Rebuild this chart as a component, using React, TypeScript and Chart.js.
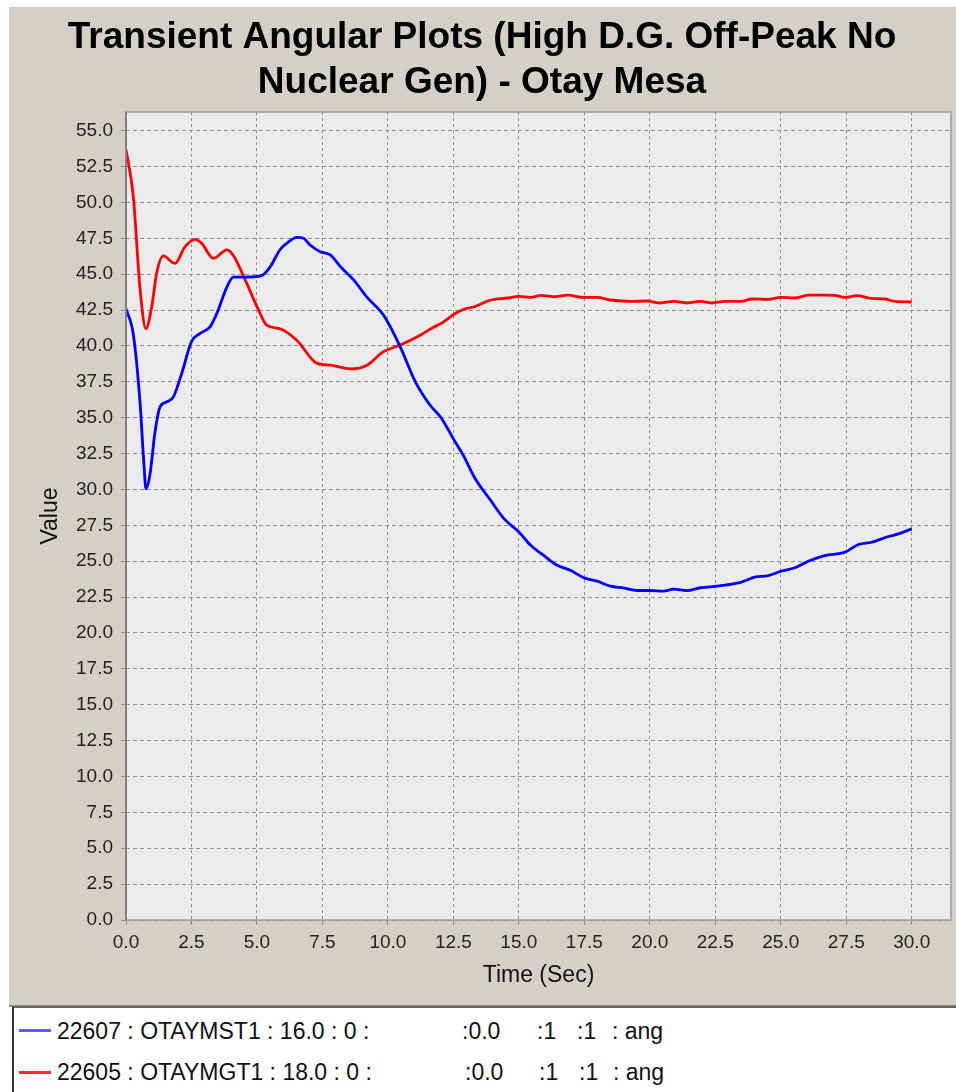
import React, { useEffect, useRef } from "react";
import { Chart, registerables } from "chart.js";

Chart.register(...registerables);

const chartTitle = ["Transient Angular Plots (High D.G. Off-Peak No", "Nuclear Gen) - Otay Mesa"];
const xAxisTitle = "Time (Sec)";
const yAxisTitle = "Value";

const blueTime = [
  0, 0.28, 0.53, 0.69, 0.76, 0.92, 1.1, 1.3, 1.55, 1.81,
  2.13, 2.5, 2.83, 3.21, 3.47, 3.85, 4.1, 4.6, 5.18, 5.5,
  5.88, 6.14, 6.52, 6.78, 7.03, 7.41, 7.8, 8.2, 8.69, 9.2,
  9.83, 10.47, 11.05, 11.6, 12.03, 12.54, 12.92, 13.3, 13.93, 14.44,
  15.01, 15.46, 15.96, 16.41, 16.98, 17.49, 17.99, 18.5, 19.0, 19.52,
  20.02, 20.53, 20.91, 21.42, 21.93, 22.22, 22.86, 23.49, 24.0, 24.52,
  25.0, 25.54, 26.05, 26.68, 27.45, 27.96, 28.47, 29.11, 29.49, 30.0,
];
const blueValues = [
  42.6, 40.8, 36.2, 31.6, 30.05, 31.1, 33.9, 35.75, 36.1, 36.45,
  38.1, 40.3, 40.87, 41.33, 42.27, 44.1, 44.8, 44.8, 44.9, 45.5,
  46.7, 47.15, 47.57, 47.5, 47.03, 46.57, 46.34, 45.5, 44.6, 43.4,
  42.15, 39.94, 37.5, 35.9, 35.0, 33.4, 32.24, 30.85, 29.22, 27.95,
  27.02, 26.09, 25.39, 24.77, 24.35, 23.84, 23.61, 23.26, 23.14, 22.96,
  22.96, 22.91, 23.05, 22.95, 23.15, 23.19, 23.33, 23.54, 23.89, 24.0,
  24.3, 24.54, 25.0, 25.39, 25.63, 26.16, 26.32, 26.72, 26.9, 27.25,
];

const redTime = [
  0, 0.28, 0.53, 0.76, 0.98, 1.17, 1.42, 1.87, 2.25, 2.64,
  2.89, 3.34, 3.85, 4.1, 4.61, 5.06, 5.37, 5.88, 6.52, 7.28,
  7.8, 8.56, 9.2, 9.83, 10.47, 11.23, 11.74, 12.03, 12.54, 12.92,
  13.3, 13.93, 14.57, 15.01, 15.46, 15.84, 16.41, 16.85, 17.49, 17.99,
  18.5, 19.26, 19.9, 20.4, 20.91, 21.42, 21.93, 22.35, 22.86, 23.49,
  23.88, 24.52, 25.0, 25.54, 26.05, 26.68, 27.07, 27.45, 27.9, 28.47,
  28.98, 29.36, 30.0,
];
const redValues = [
  53.7, 50.4, 44.1, 41.2, 42.7, 45.06, 46.27, 45.75, 46.9, 47.43,
  47.15, 46.1, 46.7, 46.3, 44.36, 42.5, 41.45, 41.2, 40.4, 38.8,
  38.66, 38.4, 38.66, 39.6, 40.06, 40.75, 41.3, 41.57, 42.22, 42.57,
  42.73, 43.2, 43.34, 43.45, 43.38, 43.52, 43.43, 43.54, 43.38, 43.38,
  43.2, 43.1, 43.13, 42.99, 43.1, 42.99, 43.1, 42.99, 43.1, 43.1,
  43.27, 43.24, 43.38, 43.34, 43.54, 43.54, 43.52, 43.38, 43.5, 43.31,
  43.27, 43.1, 43.06,
];

const seriesNames = ["22607 : OTAYMST1 : 16.0 : 0 :", "22605 : OTAYMGT1 : 18.0 : 0 :"];
const legendRest = [
  [":0.0", ":1", ":1", ": ang"],
  [":0.0", ":1", ":1", ": ang"],
];
const seriesColors = ["#0000ff", "#ff0000"];
const legendSwatchColors = ["#5a5aff", "#ff2a2a"];

const xMin = 0;
const xMax = 31.5;
const yMin = 0;
const yMax = 56.3;
const tickStep = 2.5;

const FONT = "'Liberation Sans', Arial, Helvetica, sans-serif";

export default function App() {
  const canvasRef = useRef<HTMLCanvasElement | null>(null);

  useEffect(() => {
    document.body.style.margin = "0";
    const canvas = canvasRef.current;
    if (!canvas) return;

    const panelPlugin = {
      id: "panelBg",
      beforeDraw(chart: any) {
        const { ctx, chartArea } = chart;
        ctx.save();
        ctx.fillStyle = "#ffffff";
        ctx.fillRect(0, 0, chart.width, chart.height);
        ctx.fillStyle = "#d4d0c8";
        ctx.fillRect(9, 7, chart.width - 9, chart.height - 8);
        ctx.fillStyle = "#8c8a86";
        ctx.fillRect(9, chart.height - 2, chart.width - 9, 2);
        ctx.fillStyle = "#ebebeb";
        ctx.fillRect(chartArea.left, chartArea.top, chartArea.right - chartArea.left, chartArea.bottom - chartArea.top);
        ctx.restore();
      },
      afterDraw(chart: any) {
        const { ctx, chartArea } = chart;
        ctx.save();
        ctx.strokeStyle = "#9a9a9a";
        ctx.lineWidth = 1.5;
        ctx.strokeRect(chartArea.left, chartArea.top, chartArea.right - chartArea.left, chartArea.bottom - chartArea.top);
        ctx.strokeStyle = "#808080";
        ctx.lineWidth = 2;
        ctx.beginPath();
        ctx.moveTo(chartArea.left, chartArea.top);
        ctx.lineTo(chartArea.left, chartArea.bottom);
        ctx.stroke();
        ctx.restore();
      },
    };

    const toPoints = (xs: number[], ys: number[]) => xs.map((x, i) => ({ x, y: ys[i] }));
    const filterTicks = (scale: any) => {
      scale.ticks = scale.ticks.filter((t: any) => Math.abs(t.value / tickStep - Math.round(t.value / tickStep)) < 1e-6);
    };

    const chart = new Chart(canvas, {
      type: "line",
      data: {
        datasets: [
          {
            label: seriesNames[0],
            data: toPoints(blueTime, blueValues),
            borderColor: seriesColors[0],
            backgroundColor: seriesColors[0],
            borderWidth: 2.8,
            pointRadius: 0,
            cubicInterpolationMode: "monotone",
            fill: false,
          },
          {
            label: seriesNames[1],
            data: toPoints(redTime, redValues),
            borderColor: seriesColors[1],
            backgroundColor: seriesColors[1],
            borderWidth: 2.8,
            pointRadius: 0,
            cubicInterpolationMode: "monotone",
            fill: false,
          },
        ],
      },
      options: {
        responsive: false,
        animation: false,
        devicePixelRatio: 1,
        layout: { padding: { left: 13, right: 5, top: 0, bottom: 0 } },
        plugins: {
          legend: { display: false },
          tooltip: { enabled: false },
          title: {
            display: true,
            text: chartTitle,
            color: "#000000",
            font: { family: FONT, size: 37, weight: "bold", lineHeight: "45px" },
            padding: { top: 15, bottom: 7 },
          },
        },
        scales: {
          x: {
            type: "linear",
            min: xMin,
            max: xMax,
            afterFit(scale: any) {
              scale.height = 87;
            },
            afterBuildTicks: filterTicks,
            ticks: {
              stepSize: tickStep,
              includeBounds: false,
              autoSkip: false,
              maxRotation: 0,
              padding: 6,
              color: "#222222",
              font: { family: FONT, size: 19 },
              callback: (v: any) => Number(v).toFixed(1),
            },
            grid: {
              color: "#8f8f8f",
              lineWidth: 1,
              tickLength: 5,
              tickColor: "#8a8a8a",
              tickBorderDash: [],
            },
            border: { display: false, dash: [3, 3] },
            title: {
              display: true,
              text: xAxisTitle,
              color: "#111111",
              font: { family: FONT, size: 23 },
              padding: { top: 0, bottom: 18 },
            },
          },
          y: {
            type: "linear",
            min: yMin,
            max: yMax,
            afterFit(scale: any) {
              scale.width = 113;
            },
            afterBuildTicks: filterTicks,
            ticks: {
              stepSize: tickStep,
              includeBounds: false,
              autoSkip: false,
              padding: 8,
              color: "#222222",
              font: { family: FONT, size: 19 },
              callback: (v: any) => Number(v).toFixed(1),
            },
            grid: {
              color: "#8f8f8f",
              lineWidth: 1,
              tickLength: 5,
              tickColor: "#8a8a8a",
              tickBorderDash: [],
            },
            border: { display: false, dash: [4, 3] },
            title: {
              display: true,
              text: yAxisTitle,
              color: "#111111",
              font: { family: FONT, size: 23 },
              padding: { top: 24, bottom: 0 },
            },
          },
        },
      },
      plugins: [panelPlugin],
    } as any);

    return () => chart.destroy();
  }, []);

  const legendXs = [
    [462, 537, 577, 612],
    [465, 539, 579, 613],
  ];
  const rowTops = [1020, 1061];
  const swatchYs = [1029, 1071];

  return (
    <div style={{ position: "absolute", left: 0, top: 0, width: 956, height: 1092, background: "#ffffff", overflow: "hidden" }}>
      <canvas ref={canvasRef} width={956} height={1007} style={{ position: "absolute", left: 0, top: 0, width: 956, height: 1007 }} />
      <div
        style={{
          position: "absolute",
          left: 12,
          top: 1006,
          width: 960,
          height: 100,
          background: "#ffffff",
          borderLeft: "2px solid #333333",
          borderTop: "2px solid #666666",
        }}
      />
      {seriesNames.map((name, i) => (
        <React.Fragment key={name}>
          <div style={{ position: "absolute", left: 19, top: swatchYs[i], width: 32, height: 3, background: legendSwatchColors[i] }} />
          <div style={{ position: "absolute", left: 57, top: rowTops[i], fontFamily: FONT, fontSize: 23, lineHeight: "23px", color: "#111111", whiteSpace: "pre" }}>
            {name}
          </div>
          {legendRest[i].map((txt, j) => (
            <div
              key={j}
              style={{ position: "absolute", left: legendXs[i][j], top: rowTops[i], fontFamily: FONT, fontSize: 23, lineHeight: "23px", color: "#111111", whiteSpace: "pre" }}
            >
              {txt}
            </div>
          ))}
        </React.Fragment>
      ))}
    </div>
  );
}
